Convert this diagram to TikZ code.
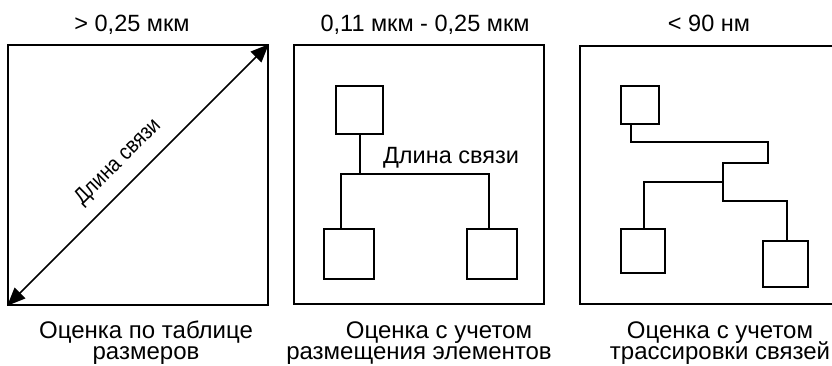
\documentclass[tikz,border=0pt]{standalone}
\usepackage{fontspec}
\setmainfont{Liberation Sans}
\usetikzlibrary{arrows.meta}

\begin{document}
\begin{tikzpicture}[x=1pt,y=-1pt,
  frame/.style={draw,line width=2.2pt},
  cell/.style={draw,line width=2.2pt,rectangle,inner sep=0pt,anchor=north west},
  wire/.style={line width=2.2pt,line cap=rect},
  lbl/.style={font=\fontsize{23.5}{26}\selectfont,inner sep=0pt,anchor=base},
  captxt/.style={font=\fontsize{24}{26}\selectfont,inner sep=0pt,anchor=base},
  dimline/.style={line width=1.6pt,{Triangle[length=18pt,width=15pt]}-{Triangle[length=18pt,width=15pt]}, shorten <=-1pt, shorten >=-1pt}
]
\path[use as bounding box] (0,0) rectangle (832,365);
\clip (0,0) rectangle (832,365);

% ---- panel 1: table-based estimate ----
\node[lbl] (t1) at (132,31) {> 0,25 мкм};
\draw[frame] (8,45) rectangle (268,305);
\coordinate (p1a) at (8,305);
\coordinate (p1b) at (268,45);
\draw[dimline] (p1a) -- (p1b);
\node[lbl,font=\fontsize{22}{24}\selectfont,rotate=45,xscale=0.88] (d1) at (122,166) {Длина связи};
\node[captxt] (c1a) at (146,338) {Оценка по таблице};
\node[captxt] (c1b) at (146,359) {размеров};

% ---- panel 2: placement-based estimate ----
\node[lbl] (t2) at (425,31) {0,11 мкм - 0,25 мкм};
\draw[frame] (294,45) rectangle (544,304);
\node[cell,minimum width=47pt,minimum height=48pt] (tb2) at (335,85) {};
\node[cell,minimum width=50pt,minimum height=50pt] (bl2) at (323,228) {};
\node[cell,minimum width=50pt,minimum height=50pt] (br2) at (466,228) {};
\coordinate (a2) at (341,174);
\coordinate (b2) at (489,174);
\draw[wire] (tb2.south) -- (tb2.south |- a2);
\draw[wire] (bl2.north -| a2) -- (a2) -- (b2) -- (br2.north -| b2);
\node[lbl] (d2) at (451,163) {Длина связи};
\node[captxt] (c2a) at (439,338) {Оценка с учетом};
\node[captxt] (c2b) at (419,359) {размещения элементов};

% ---- panel 3: routing-based estimate ----
\node[lbl] (t3) at (709,31) {< 90 нм};
\draw[frame] (580,46) rectangle (850,304);
\node[cell,minimum width=38pt,minimum height=38pt] (tb3) at (620,85) {};
\node[cell,minimum width=44pt,minimum height=44pt] (bl3) at (620,228) {};
\node[cell,minimum width=45pt,minimum height=46pt] (br3) at (762,240) {};
\coordinate (r1) at (631,142);
\coordinate (r2) at (768,142);
\coordinate (r3) at (768,163);
\coordinate (r4) at (723,163);
\coordinate (r5) at (723,182);
\coordinate (r6) at (723,201);
\coordinate (r7) at (644,182);
\coordinate (r8) at (787,201);
\draw[wire] (tb3.south -| r1) -- (r1) -- (r2) -- (r3) -- (r4) -- (r6) -- (r8) -- (br3.north -| r8);
\draw[wire] (r5) -- (r7) -- (bl3.north -| r7);
\node[captxt] (c3a) at (720,338) {Оценка с учетом};
\node[captxt] (c3b) at (720,359) {трассировки связей};
\end{tikzpicture}
\end{document}
